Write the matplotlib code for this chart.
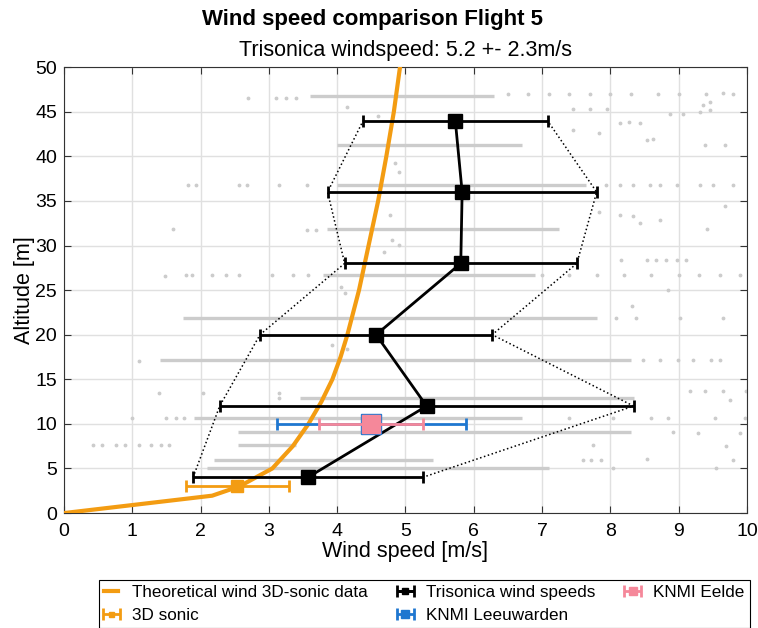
import numpy as np
import matplotlib
matplotlib.use('Agg')
from matplotlib import pyplot as plt

plt.rcParams['font.family'] = ['Liberation Sans', 'DejaVu Sans']

# Trisonica: hoogte, gemiddelde en spreiding
tri_alt = [4, 12, 20, 28, 36, 44]
tri_mean = [3.57, 5.31, 4.57, 5.81, 5.83, 5.73]
tri_std = [1.68, 3.03, 1.70, 1.70, 1.97, 1.35]

# 3D sonic
sonic_alt = [3]
sonic_mean = [2.54]
sonic_std = [0.75]

# KNMI stations
knmi_alt = [10]
leeuw_mean = [4.50]
leeuw_std = [1.38]
eelde_mean = [4.50]
eelde_std = [0.76]

# Theoretisch windprofiel
theo_alt = [0, 1.95, 3, 4, 5, 7.5, 10, 12.5, 15, 17.5, 20, 25, 30, 35, 40, 45, 50]
theo_speed = [0, 2.17, 2.57, 2.81, 3.05, 3.35, 3.58, 3.77, 3.93, 4.05, 4.15, 4.32, 4.46, 4.60, 4.72, 4.83, 4.92]

# Ruwe Trisonica data: dichte banden (hoogte, x begin, x eind)
band_alt = [46.8, 41.3, 36.8, 31.8, 26.7, 21.9, 17.2, 12.9, 10.7, 9.1, 7.66, 6.0, 5.0]
band_x0 = [3.60, 4.00, 4.00, 3.85, 3.80, 1.75, 1.40, 3.45, 1.90, 2.55, 2.55, 2.20, 2.10]
band_x1 = [6.30, 6.70, 7.65, 7.25, 6.90, 7.80, 8.30, 8.35, 6.70, 8.30, 3.40, 5.40, 7.10]

# losse punten
pts_x = [2.70, 3.10, 3.25, 3.40, 4.14, 4.60, 1.82, 1.93, 2.57, 2.68, 3.15, 3.56, 1.60, 3.56, 3.69,
         1.48, 1.78, 1.88, 2.17, 2.37, 2.57, 3.04, 3.35, 3.57, 4.84, 4.90, 4.77, 4.81, 4.90, 4.69,
         6.5, 6.8, 7.1, 7.4, 7.7, 8.0, 8.3, 8.7, 9.0, 9.4, 9.8, 9.36, 9.46, 9.65, 9.46,
         7.45, 7.7, 7.95, 8.14, 8.28, 8.43, 8.87, 9.06, 9.31, 7.45, 7.84, 8.53, 8.63, 9.38, 9.68,
         7.94, 8.14, 8.33, 8.58, 8.72, 8.97, 9.31, 9.51, 9.80,
         7.84, 8.14, 8.33, 8.43, 8.72, 9.41, 9.68, 8.16, 8.53, 8.67, 8.82, 8.97, 9.11,
         7.0, 7.4, 7.8, 8.2, 8.6, 9.0, 9.3, 9.6, 9.9,
         8.85, 8.31, 8.09, 8.38, 9.02, 9.65, 8.48, 8.72, 8.99, 9.21, 9.48, 9.60,
         9.17, 9.38, 9.65, 9.75, 9.99, 7.40, 8.04, 8.60, 8.85, 9.53, 9.97,
         8.92, 9.28, 9.90, 9.69, 9.79, 8.53, 7.75, 7.60, 7.72, 7.87, 9.55, 8.04,
         1.10, 1.39, 2.03, 1.00, 1.49, 1.64, 1.76, 0.42, 0.56, 0.76, 0.90, 1.10, 1.27, 1.42, 1.54,
         3.15, 3.15, 3.93, 4.15, 4.06, 4.12]
pts_y = [46.6, 46.6, 46.6, 46.6, 45.5, 44.5, 36.8, 36.8, 36.8, 36.8, 36.8, 36.8, 31.8, 31.7, 31.7,
         26.6, 26.7, 26.7, 26.7, 26.7, 26.7, 26.7, 26.7, 26.7, 39.3, 38.3, 33.4, 30.6, 30.1, 29.3,
         47.0, 47.0, 47.0, 47.0, 47.0, 47.0, 47.0, 47.0, 47.0, 47.0, 47.0, 45.8, 46.1, 47.1, 45.2,
         45.3, 45.3, 45.3, 43.7, 43.9, 43.7, 44.8, 44.8, 45.0, 43.0, 42.6, 41.8, 42.0, 41.3, 41.3,
         36.8, 36.8, 36.8, 36.8, 36.8, 36.8, 36.8, 36.8, 36.8,
         33.8, 33.4, 33.3, 32.5, 32.9, 31.8, 34.4, 28.4, 28.4, 28.4, 28.4, 28.4, 28.4,
         26.7, 26.7, 26.7, 26.7, 26.7, 26.7, 26.7, 26.7, 26.7,
         25.0, 23.2, 21.9, 21.9, 21.9, 21.9, 17.2, 17.2, 17.2, 17.2, 17.2, 17.2,
         13.7, 13.7, 13.7, 12.7, 13.7, 10.7, 10.7, 10.7, 10.7, 10.7, 10.7,
         9.1, 9.0, 9.0, 7.5, 6.0, 6.05, 7.66, 6.0, 6.0, 6.0, 5.0, 5.0,
         17.1, 13.5, 13.5, 10.7, 10.7, 10.7, 10.7, 7.66, 7.66, 7.66, 7.66, 7.66, 7.66, 7.66, 7.66,
         13.5, 12.9, 18.9, 18.4, 25.4, 24.7]

fig = plt.figure(figsize=(7.58, 6.28), dpi=100)
ax = fig.add_axes([0.0844, 0.183, 0.901, 0.710])

grey = '#cccccc'
orange = '#f39c12'
blue = '#1f77d0'
pink = '#f5889a'

# ruwe data
ax.hlines(band_alt, band_x0, band_x1, colors=grey, linewidth=2.4, zorder=1)
ax.plot(pts_x, pts_y, '.', color=grey, markersize=3.5, zorder=1)

# omhullende van de spreiding
lo = np.array(tri_mean) - np.array(tri_std)
hi = np.array(tri_mean) + np.array(tri_std)
ax.plot(lo, tri_alt, ':', color='black', linewidth=1.1, zorder=2)
ax.plot(hi, tri_alt, ':', color='black', linewidth=1.1, zorder=2)

# theoretisch profiel
h_theo, = ax.plot(theo_speed, theo_alt, color=orange, linewidth=3, zorder=3,
                  label='Theoretical wind 3D-sonic data')

h_sonic = ax.errorbar(sonic_mean, sonic_alt, xerr=sonic_std, fmt='s', color=orange,
                      markersize=9, linewidth=2, capsize=4, capthick=2, zorder=4, label='3D sonic')

h_tri = ax.errorbar(tri_mean, tri_alt, xerr=tri_std, fmt='-s', color='black',
                    markersize=10, linewidth=2, capsize=4, capthick=2, zorder=5,
                    label='Trisonica wind speeds')

h_leeuw = ax.errorbar(leeuw_mean, knmi_alt, xerr=leeuw_std, fmt='s', color=blue,
                      markersize=15, linewidth=2, capsize=4, capthick=2, zorder=6,
                      label='KNMI Leeuwarden')
h_eelde = ax.errorbar(eelde_mean, knmi_alt, xerr=eelde_std, fmt='s', color=pink,
                      markersize=13, linewidth=2, capsize=4, capthick=2, zorder=7,
                      label='KNMI Eelde')

# assen
ax.set_xlim(0, 10)
ax.set_ylim(0, 50)
ax.set_xticks(range(0, 11))
ax.set_yticks(range(0, 51, 5))
ax.grid(True, color='#e0e0e0', linewidth=1)
ax.set_axisbelow(True)
ax.tick_params(direction='in', length=5, labelsize=14, color='#333333', top=True, right=True)
ax.tick_params(axis='x', pad=7)
ax.tick_params(axis='y', pad=5)
for s in ax.spines.values():
    s.set_color('#333333')
ax.set_xlabel('Wind speed [m/s]', fontsize=15.5, labelpad=1)
ax.set_ylabel('Altitude [m]', fontsize=15.5, labelpad=0)

fig.suptitle('Wind speed comparison Flight 5', fontsize=16, fontweight='bold', x=0.492, y=0.985)
ax.set_title('Trisonica windspeed: 5.2 +- 2.3m/s', fontsize=15.5, pad=8)

leg = fig.legend(handles=[h_theo, h_sonic, h_tri, h_leeuw, h_eelde], loc='upper center',
                 bbox_to_anchor=(0.56, 0.077), ncol=3, fontsize=12.3, frameon=True,
                 fancybox=False, edgecolor='black', framealpha=1, markerscale=0.4,
                 handlelength=0.8, handletextpad=0.8, columnspacing=1.8,
                 borderpad=0.3, labelspacing=0.5, borderaxespad=0)
leg.get_frame().set_linewidth(0.8)

fig.savefig('out.png', dpi=100)
